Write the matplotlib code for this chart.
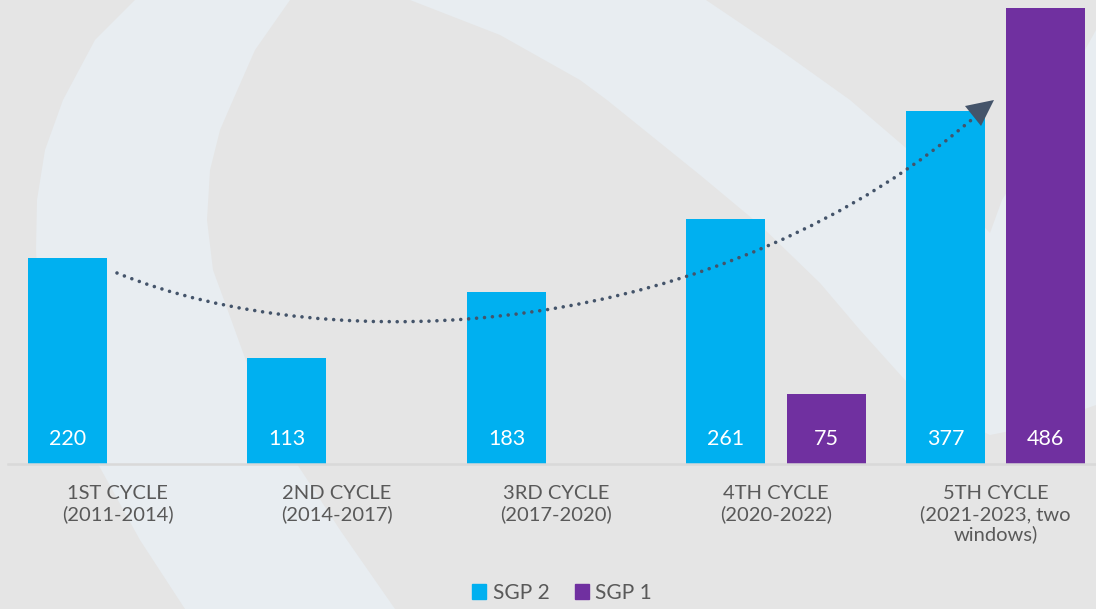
import numpy as np
import matplotlib
matplotlib.use('Agg')
import matplotlib.pyplot as plt
from matplotlib.path import Path
from matplotlib.patches import PathPatch, Polygon, Patch

# data
categories = ['1ST CYCLE\n(2011-2014)', '2ND CYCLE\n(2014-2017)', '3RD CYCLE\n(2017-2020)',
              '4TH CYCLE\n(2020-2022)', '5TH CYCLE\n(2021-2023, two\nwindows)']
sgp2 = [220, 113, 183, 261, 377]
sgp1 = [np.nan, np.nan, np.nan, 75, 486]
series_names = ['SGP 2', 'SGP 1']

cyan = '#00B0F0'
purple = '#7030A0'
grey_bg = '#E5E5E5'
light_bg = '#E8EDF1'
text_grey = '#595959'
arrow_col = '#44546A'

W, H = 1096, 609
fig = plt.figure(figsize=(W / 100, H / 100), dpi=100, facecolor=grey_bg)

# decorative background swoosh (pixel coords)
bg = fig.add_axes([0, 0, 1, 1], zorder=-1)
bg.set_xlim(0, W)
bg.set_ylim(H, 0)
bg.axis('off')
band1 = [(135, 0), (95, 40), (63, 100), (45, 150), (37, 200), (36, 250), (40, 320), (55, 390),
         (75, 430), (98, 464), (140, 540), (185, 609), (395, 609), (340, 530), (297, 464),
         (265, 410), (245, 358), (224, 300), (213, 270), (207, 220), (210, 170), (220, 130),
         (233, 100), (255, 50), (290, 0)]
band2 = [(410, 0), (500, 35), (580, 80), (607, 100), (700, 175), (760, 225), (820, 283),
         (860, 330), (905, 380), (950, 415), (990, 435), (1040, 425), (1096, 405), (1096, 30),
         (1085, 50), (1040, 140), (1002, 200), (990, 233), (920, 160), (850, 100), (780, 50),
         (706, 0)]
for b in (band1, band2):
    bg.add_patch(Polygon(b, closed=True, facecolor=light_bg, edgecolor='none'))

# main bar chart
ax = fig.add_axes([8 / W, (H - 464) / H, 1088 / W, 464 / H])
ax.patch.set_alpha(0)
x = np.arange(len(categories))
bw = 0.36
off = 0.228
b2 = ax.bar(x - off, sgp2, bw, color=cyan, label=series_names[0], zorder=2)
b1 = ax.bar(x + off, sgp1, bw, color=purple, label=series_names[1], zorder=2)
ax.set_xlim(-0.499, 4.458)
ax.set_ylim(0, 495)

for rects, vals in ((b2, sgp2), (b1, sgp1)):
    for r, v in zip(rects, vals):
        if np.isnan(v):
            continue
        ax.text(r.get_x() + r.get_width() / 2, 27, f'{v:g}', ha='center', va='center',
                color='white', fontsize=15.5, family='Lato', zorder=3)

for s in ['top', 'right', 'left']:
    ax.spines[s].set_visible(False)
ax.spines['bottom'].set_color('#D9D9D9')
ax.spines['bottom'].set_linewidth(1.8)
ax.set_yticks([])
ax.set_xticks(x)
ax.set_xticklabels(categories, fontsize=14.5, color=text_grey, family='Lato', fontweight='normal')
ax.tick_params(axis='x', length=0, pad=15)
for lab in ax.get_xticklabels():
    lab.set_linespacing(1.2)

handles = [Patch(color=cyan), Patch(color=purple)]
fig.legend(handles, series_names, loc='center', bbox_to_anchor=(562 / W, 16 / H), ncol=2,
           frameon=False, handlelength=0.7, handleheight=0.7, handletextpad=0.3,
           columnspacing=1.2, prop={'family': 'Lato', 'size': 15}, labelcolor=text_grey)

# dotted trend arrow over the bars
ov = fig.add_axes([0, 0, 1, 1], zorder=5)
ov.set_xlim(0, W)
ov.set_ylim(H, 0)
ov.axis('off')
ov.patch.set_alpha(0)
curve = Path([(117, 273), (330, 360), (720, 345), (985, 108)],
             [Path.MOVETO, Path.CURVE4, Path.CURVE4, Path.CURVE4])
pp = PathPatch(curve, fill=False, edgecolor=arrow_col, lw=2.6, linestyle=(0, (0.001, 2.2)))
pp.set_capstyle('round')
ov.add_patch(pp)
ov.add_patch(Polygon([(994, 100), (965, 106), (981, 126)], closed=True,
                     facecolor=arrow_col, edgecolor='none'))

fig.savefig('out.png', dpi=100, facecolor=grey_bg)
